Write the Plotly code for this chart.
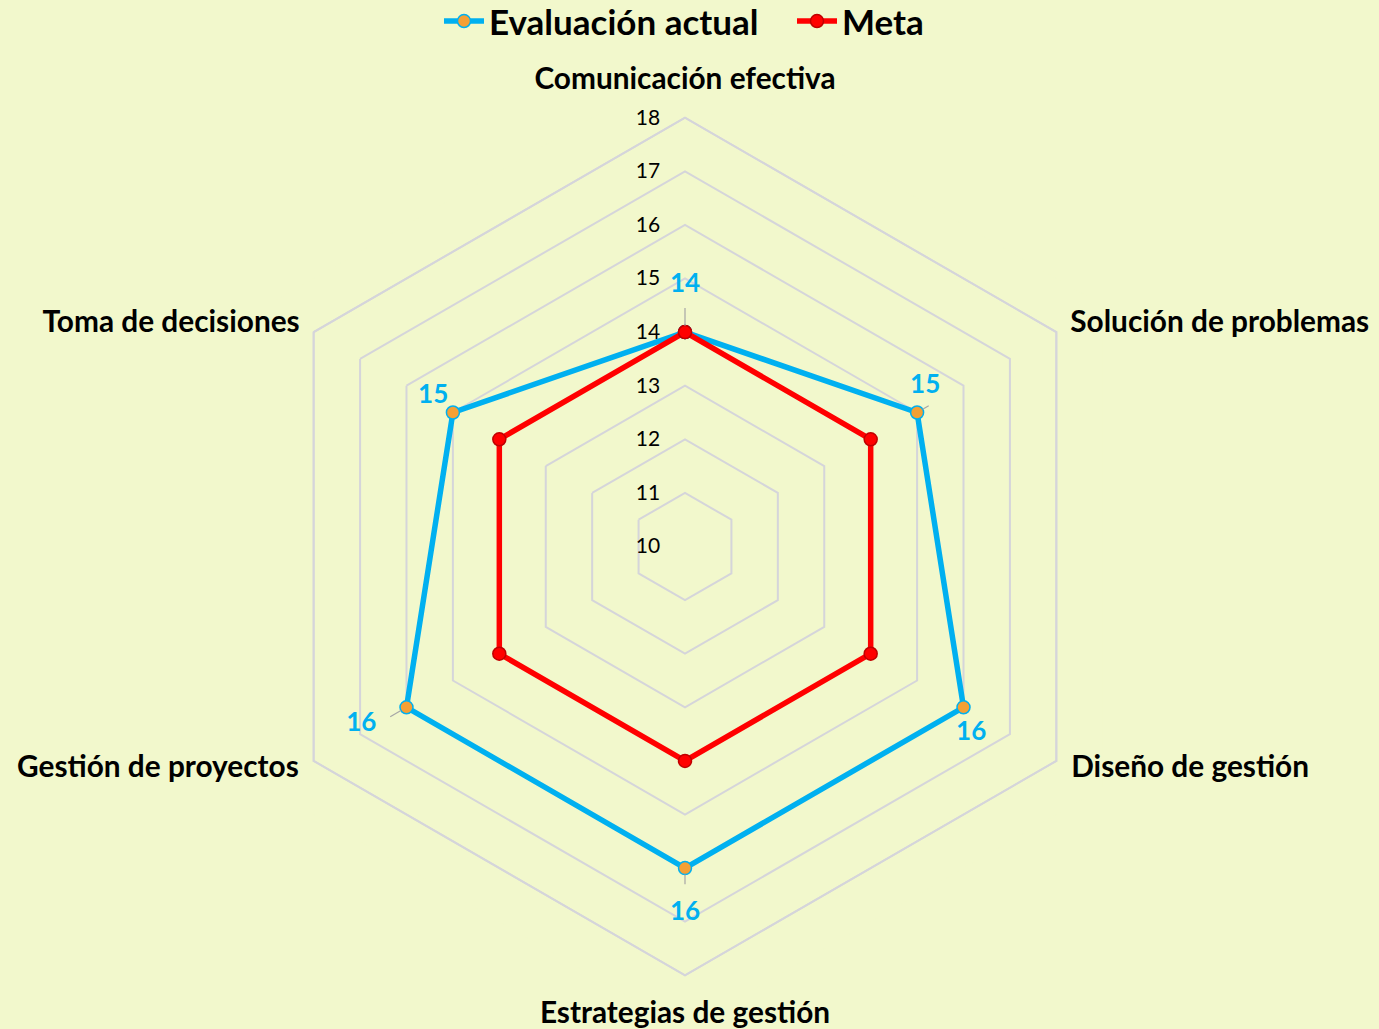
import plotly.graph_objects as go

categories = ["Comunicación efectiva", "Solución de problemas", "Diseño de gestión",
              "Estrategias de gestión", "Gestión de proyectos", "Toma de decisiones"]
actual = [14, 15, 16, 16, 16, 15]
meta = [14, 14, 14, 14, 14, 14]
radial_ticks = [10, 11, 12, 13, 14, 15, 16, 17, 18]

# label placement (style/position settings, not data)
label_offset = [0.62, 0.5, 0.49, 0.6, 0.65, 0.1]
label_pos = ["top center", "top left", "bottom left", "bottom center", "middle left", "top left"]
leader_offset = [0.45, 0.25, None, 0.3, 0.35, None]
cat_offset = [0.4, 0.3, 0.32, 0.47, 0.32, 0.3]
cat_pos = ["top center", "middle right", "middle right", "bottom center", "middle left", "middle left"]

BG = "#F2F8CC"
BLUE = "#00B0F0"
RED = "#FF0000"
GRID = "#D5D5DA"
FONT = "Lato"
RMIN, RMAX = radial_ticks[0], radial_ticks[-1]
R_OUTER = RMAX + 1  # extra room so the category labels sit inside the polar range

theta_closed = categories + [categories[0]]

fig = go.Figure()

fig.add_trace(go.Scatterpolar(
    r=actual + [actual[0]], theta=theta_closed, mode="lines+markers",
    name="Evaluación actual",
    line=dict(color=BLUE, width=5.5),
    marker=dict(size=13, color="#F5A034", line=dict(color=BLUE, width=1.5)),
))
fig.add_trace(go.Scatterpolar(
    r=meta + [meta[0]], theta=theta_closed, mode="lines+markers",
    name="Meta",
    line=dict(color=RED, width=5.5),
    marker=dict(size=13, color=RED, line=dict(color="#C00000", width=1.5)),
))

lead_r, lead_t = [], []
for c, v, lo in zip(categories, actual, leader_offset):
    if lo is None:
        continue
    lead_r += [v + 0.12, v + lo, None]
    lead_t += [c, c, c]
fig.add_trace(go.Scatterpolar(r=lead_r, theta=lead_t, mode="lines",
                              line=dict(color="#A6A6A6", width=1.2),
                              connectgaps=False, showlegend=False, hoverinfo="skip"))

fig.add_trace(go.Scatterpolar(
    r=[v + o for v, o in zip(actual, label_offset)], theta=categories, mode="text",
    text=[str(v) for v in actual],
    textfont=dict(family=FONT, size=26, color=BLUE, weight="bold"),
    textposition=label_pos, showlegend=False, hoverinfo="skip",
))

# outer hexagon (value 18 ring)
fig.add_trace(go.Scatterpolar(
    r=[RMAX] * (len(categories) + 1), theta=theta_closed, mode="lines",
    line=dict(color=GRID, width=1.8), showlegend=False, hoverinfo="skip",
))

# category labels
fig.add_trace(go.Scatterpolar(
    r=[RMAX + o for o in cat_offset], theta=categories, mode="text",
    text=categories, cliponaxis=False,
    textfont=dict(family=FONT, size=29.8, color="#000000", weight="bold"),
    textposition=cat_pos, showlegend=False, hoverinfo="skip",
))

# keep data traces on top of the grid ring
fig.data = (fig.data[4],) + fig.data[:4] + (fig.data[5],)

W, H = 1379, 1029
cx, cy, unit = 685, 546.5, 53.6
R = unit * (R_OUTER - RMIN)
fig.update_layout(
    width=W, height=H,
    margin=dict(l=0, r=0, t=0, b=0, autoexpand=False),
    paper_bgcolor=BG, plot_bgcolor=BG,
    font=dict(family=FONT, color="#000000"),
    legend=dict(orientation="h", x=439 / W, xanchor="left", y=1.008, yanchor="top",
                font=dict(family=FONT, size=35, color="#000000", weight="bold"),
                bgcolor="rgba(0,0,0,0)", itemwidth=40, tracegroupgap=0,
                entrywidth=298, entrywidthmode="pixels"),
    polar=dict(
        bgcolor=BG,
        domain=dict(x=[(cx - R) / W, (cx + R) / W],
                    y=[max(0, (H - cy - R) / H), (H - cy + R) / H]),
        gridshape="linear",
        radialaxis=dict(range=[RMIN, R_OUTER], tickvals=radial_ticks, angle=90, tickangle=90,
                        showline=False, ticks="outside", ticklen=17, tickcolor="rgba(0,0,0,0)",
                        gridcolor=GRID, gridwidth=1.8,
                        tickfont=dict(family=FONT, size=21, color="#000000"),
                        side="counterclockwise"),
        angularaxis=dict(rotation=90, direction="clockwise", showgrid=False,
                         categoryorder="array", categoryarray=categories,
                         showline=False, ticks="", showticklabels=False),
    ),
)

fig.write_html("out.html", config={"displayModeBar": False},
               post_script="document.body.style.margin='0';")
